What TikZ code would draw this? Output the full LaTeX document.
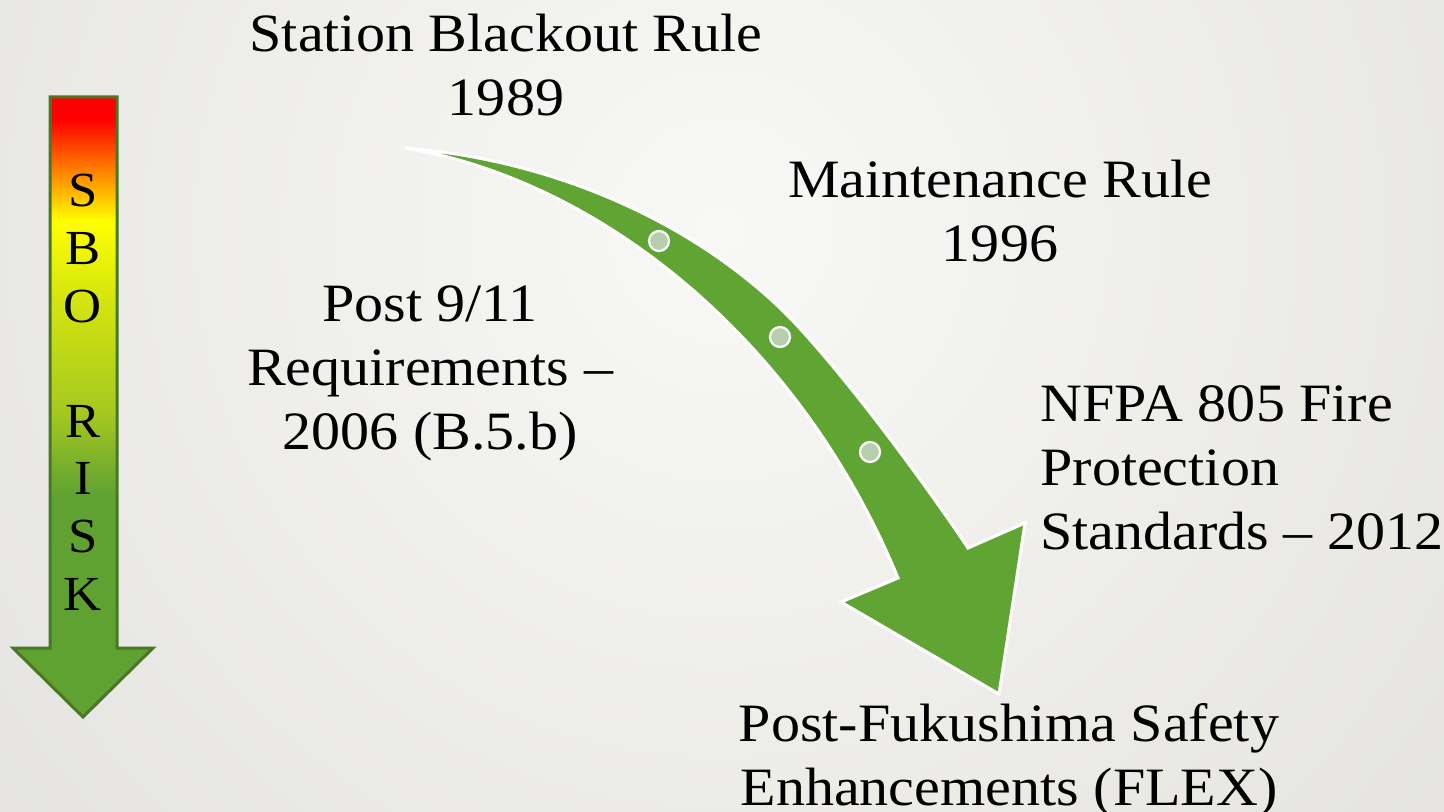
\documentclass[tikz,border=0pt]{standalone}
\usepackage{fontspec}
\setmainfont[FakeStretch=1.075]{Liberation Serif}
\usepackage{tikz}

\definecolor{bgin}{RGB}{248,248,246}
\definecolor{bgout}{RGB}{224,223,219}
\definecolor{flowgreen}{RGB}{96,165,52}
\definecolor{dotfill}{RGB}{182,206,172}
\definecolor{riskborder}{RGB}{72,120,38}
\definecolor{riskred}{RGB}{255,0,0}
\definecolor{riskorange}{RGB}{255,140,0}
\definecolor{riskyellow}{RGB}{255,255,0}
\definecolor{riskyg}{RGB}{212,228,16}
\definecolor{risklime}{RGB}{165,200,32}
\definecolor{riskgreen}{RGB}{96,162,50}

% red on top, green at the bottom
\pgfdeclareverticalshading{riskshade}{100bp}{color(0bp)=(riskgreen); color(25bp)=(riskgreen);
  color(43bp)=(riskgreen); color(49.5bp)=(risklime); color(58.6bp)=(riskyg);
  color(65bp)=(riskyellow); color(68.7bp)=(riskorange); color(73.2bp)=(riskred); color(100bp)=(riskred)}

\begin{document}
\begin{tikzpicture}[x=0.5pt, y=-0.5pt,
  lbl/.style={font=\fontsize{27}{32}\selectfont, align=center, inner sep=0pt},
  riskletters/.style={font=\fontsize{24.5}{28.8}\selectfont, align=center, inner sep=0pt},
  milestone/.style={circle, fill=dotfill, draw=white, line width=1.1pt, minimum size=10pt, inner sep=0pt}]
\useasboundingbox (0,0) rectangle (1444,812);
% background
\begin{scope}
\clip (0,0) rectangle (1444,812);
\shade[inner color=bgin, outer color=bgout] (720,230) circle (1150);
\end{scope}

% the SBO risk arrow
\draw[shading=riskshade, draw=riskborder, line width=1.5pt]
  (50,97) -- (117,97) -- (117,648) -- (153,648) -- (83,717) -- (13,648) -- (50,648) -- cycle;
\node[riskletters, anchor=north] (risk) at (83,174) {S\\B\\O\\[28.8pt]R\\I\\S\\K};

% the curved arrow
\coordinate (tail) at (405,148);
\coordinate (bend) at (780,308);
\coordinate (notchup) at (968,548);
\coordinate (notchlow) at (898,578);
\fill[flowgreen, draw=white, line width=1.5pt]
  (tail) .. controls (555,160) and (690,222) .. (bend)
  .. controls (830,356) and (918,473) .. (notchup) -- (1025,523) -- (999,694) -- (841,602)
  -- (notchlow) .. controls (800,340) and (600,180) .. (tail) -- cycle;
\node[milestone] (m1) at (659,241) {};
\node[milestone] (m2) at (780,337) {};
\node[milestone] (m3) at (870,452) {};

% the labels
\node[lbl, anchor=north] (sbo) at (506,14) {Station Blackout Rule\\1989};
\node[lbl, anchor=north] (mrule) at (1000,160) {Maintenance Rule\\1996};
\node[lbl, anchor=north] (post911) at (430,285) {Post 9/11\\Requirements --\\2006 (B.5.b)};
\node[lbl, anchor=north west, align=left] (nfpa) at (1040,385) {NFPA 805 Fire\\Protection\\Standards -- 2012};
\node[lbl, anchor=north] (flex) at (1009,703) {Post-Fukushima Safety\\Enhancements (FLEX)};
\end{tikzpicture}
\end{document}
